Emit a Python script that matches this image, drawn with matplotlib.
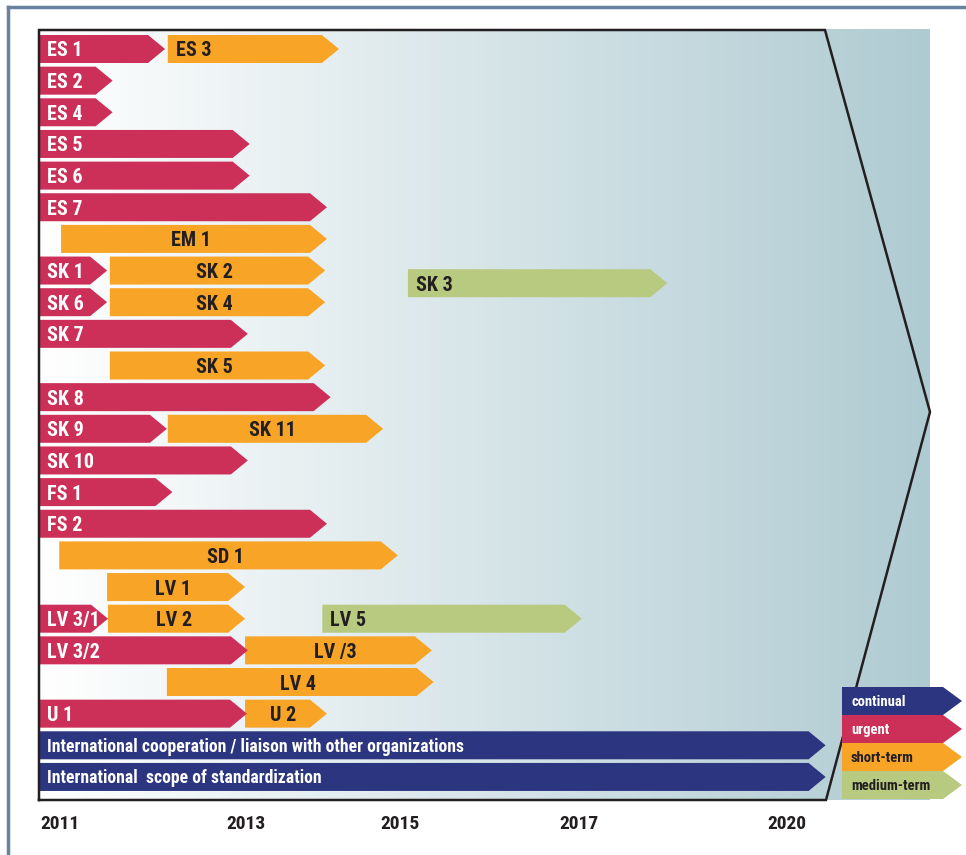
import numpy as np
import matplotlib.pyplot as plt
from matplotlib.patches import Polygon
from matplotlib.lines import Line2D
from matplotlib.colors import to_rgb

# bars: label, row, start year, arrow tip year, category
labels = ["ES 1", "ES 3", "ES 2", "ES 4", "ES 5", "ES 6", "ES 7", "EM 1",
          "SK 1", "SK 2", "SK 3", "SK 6", "SK 4", "SK 7", "SK 5", "SK 8",
          "SK 9", "SK 11", "SK 10", "FS 1", "FS 2", "SD 1", "LV 1",
          "LV 3/1", "LV 2", "LV 5", "LV 3/2", "LV /3", "LV 4", "U 1", "U 2",
          "International cooperation / liaison with other organizations",
          "International  scope of standardization"]
rows = [0, 0, 1, 2, 3, 4, 5, 6,
        7, 7, 7.4, 8, 8, 9, 10, 11,
        12, 12, 13, 14, 15, 16, 17,
        18, 18, 18, 19, 19, 20, 21, 21,
        22, 23]
starts = [2011.0, 2012.40, 2011.0, 2011.0, 2011.0, 2011.0, 2011.0, 2011.24,
          2011.0, 2011.77, 2015.01, 2011.0, 2011.77, 2011.0, 2011.77, 2011.0,
          2011.0, 2012.40, 2011.0, 2011.0, 2011.0, 2011.22, 2011.74,
          2011.0, 2011.75, 2014.08, 2011.0, 2013.24, 2012.39, 2011.0, 2013.24,
          2011.0, 2011.0]
ends = [2012.37, 2014.26, 2011.80, 2011.80, 2013.29, 2013.29, 2014.13, 2014.13,
        2011.74, 2014.11, 2017.83, 2011.74, 2014.11, 2013.27, 2014.11, 2014.17,
        2012.39, 2014.74, 2013.27, 2012.45, 2014.13, 2014.90, 2013.24,
        2011.75, 2013.24, 2016.90, 2013.27, 2015.27, 2015.29, 2013.26, 2014.13,
        2019.55, 2019.55]
cats = ["u", "s", "u", "u", "u", "u", "u", "s",
        "u", "s", "m", "u", "s", "u", "s", "u",
        "u", "s", "u", "u", "u", "s", "s",
        "u", "s", "m", "u", "s", "s", "u", "s",
        "c", "c"]
centered = ["EM 1", "SK 2", "SK 4", "SK 5", "SK 11", "SD 1", "LV 1",
            "LV 2", "LV /3", "LV 4", "U 2"]

legend_cats = ["c", "u", "s", "m"]
legend_names = ["continual", "urgent", "short-term", "medium-term"]

year_labels = ["2011", "2013", "2015", "2017", "2020"]
year_pos = [2011.01, 2013.04, 2014.71, 2016.66, 2018.92]

colors = {"c": "#2c3580", "u": "#cc2f57", "s": "#f7a427", "m": "#b8ca80"}
text_colors = {"c": "white", "u": "white", "s": "#231f20", "m": "#231f20"}
draw_order = {"s": 0, "m": 0, "u": 1, "c": 2}

# layout: 92 px per year, 2011 at px 39; rows 31.65 px apart, row 0 at px 49
PPY = 92.0
PPR = 31.65
head = 17 / PPY
half = 14 / PPR

fig = plt.figure(figsize=(9.66, 8.55), dpi=100)
ax = fig.add_axes([0, 0, 1, 1])
ax.set_xlim(2011 - 39 / PPY, 2011 + 927 / PPY)
ax.set_ylim((855 - 49) / PPR, -49 / PPR)
ax.axis("off")

font = dict(family="Roboto Condensed", weight="bold")

# gradient background
c0 = np.array(to_rgb("#ffffff"))
c1 = np.array(to_rgb("#afcbd2"))
t = np.linspace(0, 1, 256)[None, :, None]
grad = c0 + (c1 - c0) * t
top, bottom = -19 / PPR, (800 - 49) / PPR
right = 2011 + (930 - 39) / PPY
ax.imshow(grad, extent=[2011, right, bottom, top], aspect="auto", zorder=0)


def arrow(x0, x1, y, color, z, h=head):
    pts = [(x0, y - half), (x1 - h, y - half), (x1, y),
           (x1 - h, y + half), (x0, y + half)]
    ax.add_patch(Polygon(pts, closed=True, facecolor=color, edgecolor="none",
                         zorder=z))


order = sorted(range(len(labels)), key=lambda i: draw_order[cats[i]])
for i in order:
    c = cats[i]
    z = 2 + draw_order[c]
    arrow(starts[i], ends[i], rows[i], colors[c], z)
    base = rows[i] + 7.5 / PPR
    if labels[i] in centered:
        ax.text((starts[i] + ends[i]) / 2 - 0.03, base, labels[i],
                color=text_colors[c], ha="center", va="baseline",
                fontsize=14.5, zorder=z + 0.5, **font)
    elif c == "c":
        ax.text(starts[i] + 8 / PPY, rows[i] + 6.5 / PPR, labels[i],
                color=text_colors[c], ha="left", va="baseline",
                fontsize=12.7, zorder=z + 0.5, **font)
    else:
        ax.text(starts[i] + 8 / PPY, base, labels[i], color=text_colors[c],
                ha="left", va="baseline", fontsize=14.5, zorder=z + 0.5,
                **font)

# frame with big arrow outline
corner = 2011 + (825 - 39) / PPY
tip_y = (412 - 49) / PPR
fx = [2011, 2011, corner, right, 2011 + (826 - 39) / PPY, 2011]
fy = [bottom, top, top, tip_y, bottom, bottom]
ax.plot(fx, fy, color="#231f20", lw=1.8, zorder=5, solid_joinstyle="miter")

# legend
lx0 = 2011 + (842 - 39) / PPY
lx1 = 2011 + (962 - 39) / PPY
for k, (c, name) in enumerate(zip(legend_cats, legend_names)):
    ly = (701 - 49) / PPR + k * 28 / PPR
    arrow(lx0, lx1, ly, colors[c], 6, h=19 / PPY)
    ax.text(lx0 + 9 / PPY, ly + 4.5 / PPR, name, color=text_colors[c],
            ha="left", va="baseline", fontsize=10.5, zorder=7, **font)

# year labels
for lab, x in zip(year_labels, year_pos):
    ax.text(x, (829 - 49) / PPR, lab, color="#231f20", ha="left",
            va="baseline", fontsize=14, **font)

# outer border
fig.add_artist(Line2D([8 / 966, 8 / 966], [0, 1 - 7 / 855],
                      transform=fig.transFigure, color="#6a82a2", lw=2.5))
fig.add_artist(Line2D([8 / 966, 1], [1 - 7 / 855, 1 - 7 / 855],
                      transform=fig.transFigure, color="#6a82a2", lw=2.5))

fig.savefig("out.png", dpi=100)
